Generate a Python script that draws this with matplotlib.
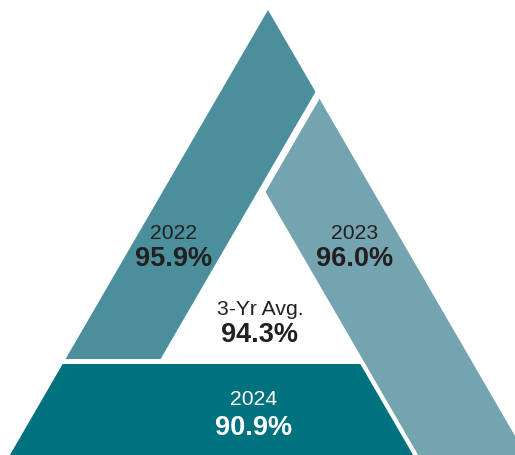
import matplotlib.pyplot as plt
from matplotlib.patches import Polygon

plt.rcParams['font.family'] = ['Liberation Sans', 'DejaVu Sans']

# Data
years = ['2022', '2023', '2024']
rates = [95.9, 96.0, 90.9]
avg_label = '3-Yr Avg.'
avg_rate = 94.3

colors = ['#4b8f9c', '#74a4af', '#00717f']
text_colors = ['#231f20', '#231f20', 'white']

# Triangle geometry (pixel units, y grows downward)
W, H = 515, 455
apex_x, apex_y = 268, 10
s = 0.58          # horizontal run per unit of drop along the sides
w1, w2 = 95, 108  # horizontal band widths of left and right bands
gap, gap2 = 8, 5  # white separators
y_split = 359     # bottom of the left band
y_top24 = 364     # top of the bottom band
y_bot = H + 20


def left(y):
    return apex_x - s * (y - apex_y)


def right(y):
    return apex_x + s * (y - apex_y)


y_a = apex_y + w1 / (2 * s)
y_b = apex_y + (w1 + gap) / (2 * s)
y_c = apex_y + (w1 + gap + w2) / (2 * s)

shapes = [
    [(apex_x, apex_y), (right(y_a), y_a), (left(y_split) + w1, y_split),
     (left(y_split), y_split)],
    [(right(y_b), y_b), (right(y_bot), y_bot), (right(y_bot) - w2, y_bot),
     (right(y_c) - w2, y_c)],
    [(left(y_top24), y_top24), (right(y_top24) - w2 - gap2, y_top24),
     (right(y_bot) - w2 - gap2, y_bot), (left(y_bot), y_bot)],
]

# label anchors (centre x, baseline of year, baseline of value)
label_pos = [(174, 239, 266), (355, 239, 266), (254, 405, 435)]

fig = plt.figure(figsize=(W / 100, H / 100), dpi=100)
ax = fig.add_axes([0, 0, 1, 1])
ax.set_xlim(0, W)
ax.set_ylim(H, 0)
ax.axis('off')

for pts, c in zip(shapes, colors):
    ax.add_patch(Polygon(pts, closed=True, facecolor=c, edgecolor='none'))

for yr, val, (cx, yb1, yb2), tc in zip(years, rates, label_pos, text_colors):
    ax.text(cx, yb1, yr, ha='center', va='baseline', fontsize=15.2, color=tc)
    ax.text(cx, yb2, f'{val:.1f}%', ha='center', va='baseline', fontsize=19.5,
            fontweight='bold', color=tc)

ax.text(260, 315, avg_label, ha='center', va='baseline', fontsize=15.2,
        color='#231f20')
ax.text(260, 342, f'{avg_rate:.1f}%', ha='center', va='baseline', fontsize=19.5,
        fontweight='bold', color='#231f20')

fig.savefig('out.png', dpi=100)
